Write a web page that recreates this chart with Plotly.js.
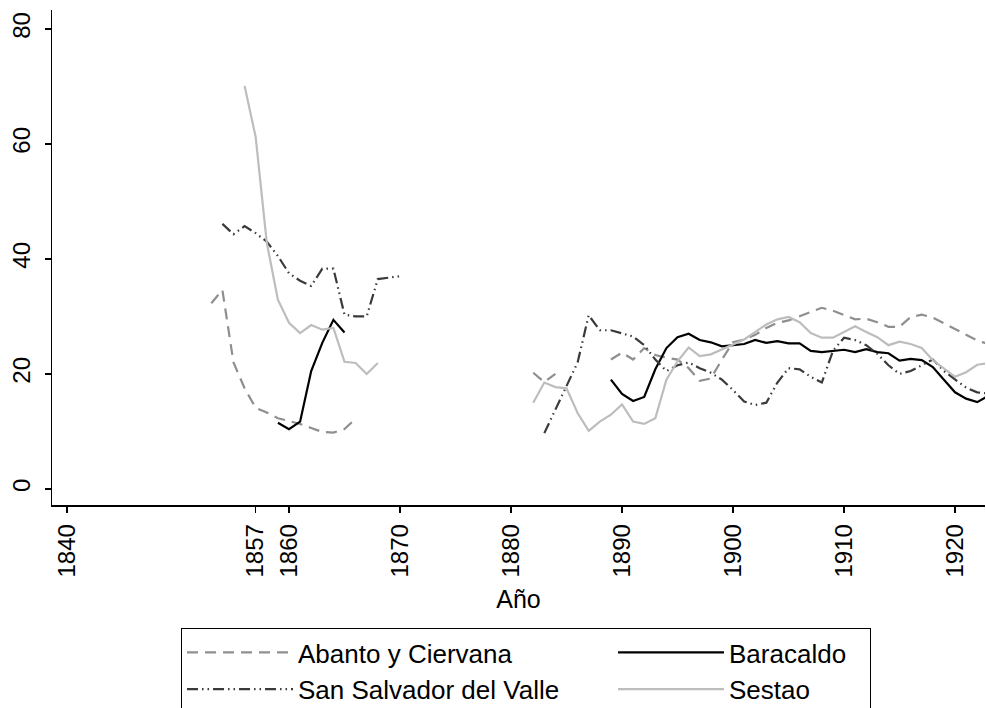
<!DOCTYPE html>
<html>
<head>
<meta charset="utf-8">
<script src="https://cdn.plot.ly/plotly-3.0.1.min.js"></script>
<style>html,body{margin:0;padding:0;background:#fff;}#chart{width:986px;height:708px;}</style>
</head>
<body>
<div id="chart"></div>
<script>
var years = [1853,1854,1855,1856,1857,1858,1859,1860,1861,1862,1863,1864,1865,1866,1867,1868,1869,1870,1871,1872,1873,1874,1875,1876,1877,1878,1879,1880,1881,1882,1883,1884,1885,1886,1887,1888,1889,1890,1891,1892,1893,1894,1895,1896,1897,1898,1899,1900,1901,1902,1903,1904,1905,1906,1907,1908,1909,1910,1911,1912,1913,1914,1915,1916,1917,1918,1919,1920,1921,1922,1923];

var abanto = [32.3,34.6,22,17.5,14.1,13.3,12.3,11.8,11.3,10.6,9.9,9.8,10.4,12.2,
  null,null,null,null,null,null,null,null,null,null,null,null,null,null,null,
  20.2,18.6,20,
  null,null,null,null,
  22.5,23.7,22.5,24.5,23.3,22.8,22.5,21,18.8,19.2,22.5,25.5,26,26.8,28,28.9,29.3,30,30.8,31.5,31,30.3,29.5,29.6,29,28.2,28.2,29.9,30.3,29.8,28.8,27.8,26.8,25.8,25.2];

var baracaldo = [null,null,null,null,null,null,
  11.5,10.4,11.7,20.5,25.4,29.4,27.2,
  null,null,null,null,null,null,null,null,null,null,null,null,null,null,null,null,null,null,null,null,null,null,null,
  19,16.5,15.3,16,20.8,24.5,26.4,27,25.9,25.5,24.8,25,25.2,25.9,25.4,25.7,25.3,25.3,24,23.8,24,24.2,23.8,24.3,23.8,23.6,22.3,22.6,22.4,21.2,19,16.8,15.7,15.1,16.2];

var sanSalvador = [null,
  46.1,44.3,45.7,44.5,43,40.5,37.5,36.2,35.3,38.3,38.3,30.3,30,30,36.5,36.7,37,
  null,null,null,null,null,null,null,null,null,null,null,null,
  9.7,13.7,17.8,22,30.2,27.6,27.6,27,26.5,25,22.5,20.5,21.5,22,21,20.2,19,17.2,15.2,14.6,15,18.5,21,20.8,19.5,18.5,24,26.3,25.9,25,23.5,21.5,20,20.5,21.5,22.5,20.5,19,17.6,16.8,16.6];

var sestao = [null,null,null,
  70.1,61.2,42.8,32.9,28.9,27.1,28.5,27.7,28,22.1,21.9,20,21.9,
  null,null,null,null,null,null,null,null,null,null,null,null,null,
  15,18.5,17.7,17.5,13.2,10.1,11.7,12.9,14.7,11.7,11.3,12.3,19,22.2,24.6,23.1,23.4,24.2,25.1,26,27.3,28.6,29.5,29.9,29,27.1,26.3,26.3,27.3,28.3,27.3,26.4,25,25.6,25.2,24.5,22.4,21,19.5,20.3,21.6,21.9];

var seriesNames = ["Abanto y Ciervana", "Baracaldo", "San Salvador del Valle", "Sestao"];
var xTicks = [1840,1857,1860,1870,1880,1890,1900,1910,1920];
var yTicks = [0,20,40,60,80];

var FONT = "Liberation Sans, Arial, Helvetica, sans-serif";
var COL1 = 310, COL2 = 136;

var traces = [
  {x: years, y: abanto, name: seriesNames[0], mode: "lines", connectgaps: false, legendwidth: COL1,
   line: {color: "#8f8f8f", width: 2.2, dash: "11px,7px"}},
  {x: years, y: baracaldo, name: seriesNames[1], mode: "lines", connectgaps: false, legendwidth: COL2,
   line: {color: "#000000", width: 2.2}},
  {x: years, y: sanSalvador, name: seriesNames[2], mode: "lines", connectgaps: false, legendwidth: COL1,
   line: {color: "#3a3a3a", width: 2.2, dash: "11px,4px,1.5px,4px,1.5px,4px"}},
  {x: years, y: sestao, name: seriesNames[3], mode: "lines", connectgaps: false, legendwidth: COL2,
   line: {color: "#bdbdbd", width: 2.2}}
];

var layout = {
  width: 986, height: 708,
  margin: {l: 52, r: 1, t: 10, b: 203},
  paper_bgcolor: "#fff", plot_bgcolor: "#fff",
  font: {family: FONT, color: "#000", size: 24},
  showlegend: true,
  xaxis: {
    range: [1838.65, 1922.7], tickmode: "array", tickvals: xTicks, ticktext: xTicks.map(String),
    tickangle: -90, ticks: "outside", ticklen: 6, tickwidth: 1.3, tickcolor: "#000",
    showline: true, linecolor: "#000", linewidth: 1.5, showgrid: false, zeroline: false,
    automargin: false, ticklabelstandoff: 2,
    tickfont: {family: FONT, size: 24, color: "#000"},
    title: {text: "Año", font: {family: FONT, size: 25, color: "#000"}, standoff: 14}
  },
  yaxis: {
    range: [-2.8, 83.3], tickmode: "array", tickvals: yTicks, ticktext: yTicks.map(String),
    tickangle: -90, ticks: "outside", ticklen: 6, tickwidth: 1.3, tickcolor: "#000",
    showline: true, linecolor: "#000", linewidth: 1.5, showgrid: false, zeroline: false,
    automargin: false, ticklabelstandoff: 5,
    tickfont: {family: FONT, size: 24, color: "#000"}
  },
  legend: {
    orientation: "h", xref: "container", yref: "container",
    x: 0.1836, xanchor: "left", y: 0.113, yanchor: "top",
    bordercolor: "#000", borderwidth: 1, bgcolor: "#fff",
    font: {family: FONT, size: 26, color: "#000"},
    itemwidth: 106, traceorder: "normal"
  }
};

Plotly.newPlot("chart", traces, layout, {displayModeBar: false, staticPlot: true});
</script>
</body>
</html>
